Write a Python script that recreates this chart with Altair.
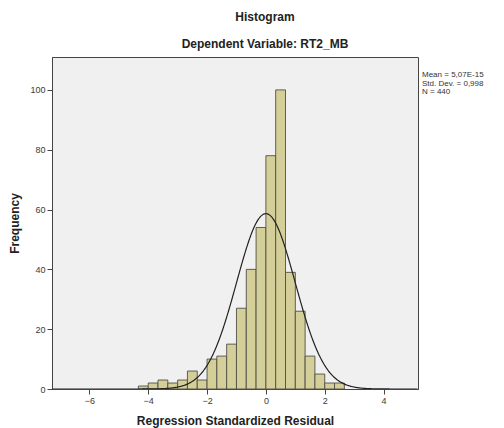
import altair as alt
import pandas as pd

# ---- data ----
bin_width = 1 / 3
first_bin_start = -13 / 3
counts = [1, 2, 3, 2, 3, 6, 3, 10, 11, 15, 27, 40, 54, 78, 100, 39, 26, 11, 5, 2, 2]
x_ticks = [-6, -4, -2, 0, 2, 4]
y_ticks = [0, 20, 40, 60, 80, 100]
x_domain = [-7.27, 5.17]
y_domain = [0, 111]
mean_val = 5.07e-15
sd_val = 0.998
n_val = 440
stats_lines = ["Mean = 5,07E-15", "Std. Dev. = 0,998", "N = 440"]

starts = [first_bin_start + i * bin_width for i in range(len(counts))]
bars_df = pd.DataFrame({
    "start": starts,
    "end": [s + bin_width for s in starts],
    "count": counts,
})

W, H = 366, 332
FONT = "Liberation Sans"

x_scale = alt.Scale(domain=x_domain, nice=False, zero=False)
y_scale = alt.Scale(domain=y_domain, nice=False)

x_axis = alt.Axis(values=x_ticks, title="Regression Standardized Residual",
                  grid=False, tickSize=5, labelFontSize=9, labelColor="#3a3a3a",
                  labelFont=FONT, titleFont=FONT, titleFontSize=12, titleFontWeight="bold",
                  titleColor="#222222", titlePadding=10, domainColor="#444444",
                  tickColor="#444444", labelPadding=2)
y_axis = alt.Axis(values=y_ticks, title="Frequency", grid=False, tickSize=5,
                  labelFontSize=9, labelColor="#3a3a3a", labelFont=FONT,
                  titleFont=FONT, titleFontSize=12, titleFontWeight="bold",
                  titleColor="#222222", titlePadding=8, domainColor="#444444",
                  tickColor="#444444", labelPadding=2)

bars = alt.Chart(bars_df).mark_rect(
    fill="#d4cf98", stroke="#4f4f46", strokeWidth=0.9
).encode(
    x=alt.X("start:Q", scale=x_scale, axis=x_axis),
    x2="end:Q",
    y=alt.Y("count:Q", scale=y_scale, axis=y_axis),
    y2=alt.datum(0),
)

curve = alt.Chart(alt.sequence(x_domain[0], x_domain[1], 0.02, as_="x")).transform_calculate(
    y=f"{n_val} * {bin_width} * densityNormal(datum.x, {mean_val}, {sd_val})"
).mark_line(color="#222222", strokeWidth=1.2, clip=True).encode(
    x=alt.X("x:Q", scale=x_scale),
    y=alt.Y("y:Q", scale=y_scale),
)

stats = alt.Chart(pd.DataFrame({"t": [stats_lines]})).mark_text(
    align="left", baseline="top", fontSize=8, font=FONT, color="#333333",
    lineHeight=8.5,
).encode(
    x=alt.value(W + 4),
    y=alt.value(14),
    text="t",
)

chart = alt.layer(bars, curve, stats).properties(
    width=W,
    height=H,
    title=alt.TitleParams(
        text="Histogram",
        subtitle="Dependent Variable: RT2_MB",
        font=FONT, fontSize=12, fontWeight="bold", color="#222222",
        subtitleFont=FONT, subtitleFontSize=12, subtitleFontWeight="bold",
        subtitleColor="#222222", subtitlePadding=15, offset=6,
        anchor="middle", dx=30,
    ),
    autosize=alt.AutoSizeParams(type="none"),
    padding={"left": 44, "top": 49, "right": 78, "bottom": 40},
).configure(
    background="white",
).configure_view(
    fill="#f0f0f0", stroke="#444444", strokeWidth=1,
)

chart.save("out.html", embed_options={"renderer": "svg", "actions": False})
